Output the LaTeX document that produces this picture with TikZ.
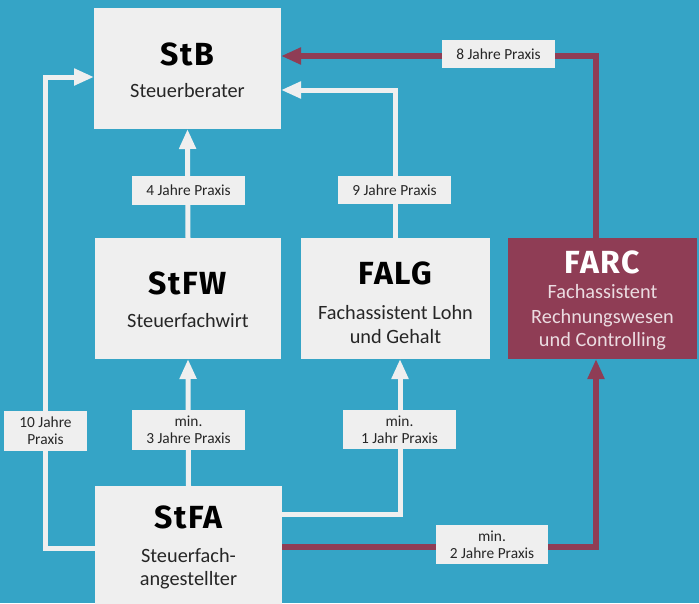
\documentclass[tikz,border=0pt]{standalone}
\usepackage{fontspec}
\setmainfont{Carlito}
\newfontfamily\titlefont{Fira Sans}[LetterSpace=5]
\usetikzlibrary{arrows.meta}
\definecolor{bg}{HTML}{35A4C6}
\definecolor{boxgray}{HTML}{EFEFEF}
\definecolor{farcred}{HTML}{8F3D55}
\definecolor{txt}{HTML}{262626}
\definecolor{farcsub}{HTML}{EBDCE1}
\tikzset{
  box/.style={fill=boxgray, draw=none, inner sep=0pt, outer sep=0pt, minimum width=#1, minimum height=121pt},
  redbox/.style={fill=farcred, draw=none, inner sep=0pt, outer sep=0pt, minimum width=#1, minimum height=121pt},
  title/.style={anchor=base, inner sep=0pt, font=\titlefont\bfseries\fontsize{32}{32}\selectfont, text=black},
  sub/.style={anchor=base, inner sep=0pt, font=\fontsize{20.3}{24}\selectfont, text=txt},
  lbl/.style={fill=boxgray, draw=none, inner sep=0pt, outer sep=0pt, align=center, text=txt,
     font=\fontsize{15.4}{17}\selectfont},
  wline/.style={draw=boxgray, line width=5pt, -{Triangle[length=20pt,width=16pt]}},
  rline/.style={draw=farcred, line width=5.5pt, -{Triangle[length=20pt,width=16pt]}},
}
\begin{document}
\begin{tikzpicture}[x=1pt,y=-1pt]
\fill[bg] (0,0) rectangle (699,603);
\useasboundingbox (0,0) rectangle (699,603);
% boxes
\node[box=187pt] (stb) at (187.5,68.5) {};
\node[box=186pt] (stfw) at (188,298.5) {};
\node[box=189pt] (falg) at (395.5,298.5) {};
\node[redbox=189pt] (farc) at (602.5,298.5) {};
\node[box=187pt] (stfa) at (188.5,546.5) {};
% box texts
\node[title] (t1) at (187.5,65) {StB};
\node[sub] (s1) at (187.5,97) {Steuerberater};
\node[title] (t2) at (188,294) {StFW};
\node[sub] (s2) at (188,327) {Steuerfachwirt};
\node[title] (t3) at (395.5,284) {FALG};
\node[sub] (s3a) at (395.5,319) {Fachassistent Lohn};
\node[sub] (s3b) at (395.5,343) {und Gehalt};
\node[title, text=white] (t4) at (602.5,273) {FARC};
\node[sub, text=farcsub] (s4a) at (602.5,298) {Fachassistent};
\node[sub, text=farcsub] (s4b) at (602.5,323) {Rechnungswesen};
\node[sub, text=farcsub] (s4c) at (602.5,346) {und Controlling};
\node[title] (t5) at (188.5,528) {StFA};
\node[sub] (s5a) at (188.5,562) {Steuerfach-};
\node[sub] (s5b) at (188.5,585) {angestellter};
% bend points
\coordinate (c1) at (45,548);
\coordinate (c2) at (45,77);
\coordinate (c3) at (400,514);
\coordinate (c4) at (395,90);
\coordinate (c5) at (596,547);
\coordinate (c6) at (596,56);
% connectors
\draw[wline] (stfa.west |- c1) -- (c1) -- (c2) -- (c2 -| stb.west);
\draw[wline] (stfa.north) -- (stfw.south);
\draw[wline] (stfw.north) -- (stb.south);
\draw[wline] (stfa.east |- c3) -- (c3) -- (c3 |- falg.south);
\draw[wline] (c4 |- falg.north) -- (c4) -- (c4 -| stb.east);
\draw[rline] (stfa.east |- c5) -- (c5) -- (c5 |- farc.south);
\draw[rline] (c6 |- farc.north) -- (c6) -- (c6 -| stb.east);
% labels
\node[lbl, minimum width=113pt, minimum height=28pt] (l8) at (498.5,54) {8 Jahre Praxis};
\node[lbl, minimum width=113pt, minimum height=29pt] (l4) at (188.5,190.5) {4 Jahre Praxis};
\node[lbl, minimum width=113pt, minimum height=28pt] (l9) at (394.5,190) {9 Jahre Praxis};
\node[lbl, minimum width=83pt, minimum height=40pt] (l10) at (45.5,431) {10 Jahre\\Praxis};
\node[lbl, minimum width=113pt, minimum height=40pt] (l3) at (188.5,430) {min.\\3 Jahre Praxis};
\node[lbl, minimum width=113pt, minimum height=39pt] (l1) at (399.5,429.5) {min.\\1 Jahr Praxis};
\node[lbl, minimum width=112pt, minimum height=39pt] (l2) at (492,544.5) {min.\\2 Jahre Praxis};
\end{tikzpicture}
\end{document}
